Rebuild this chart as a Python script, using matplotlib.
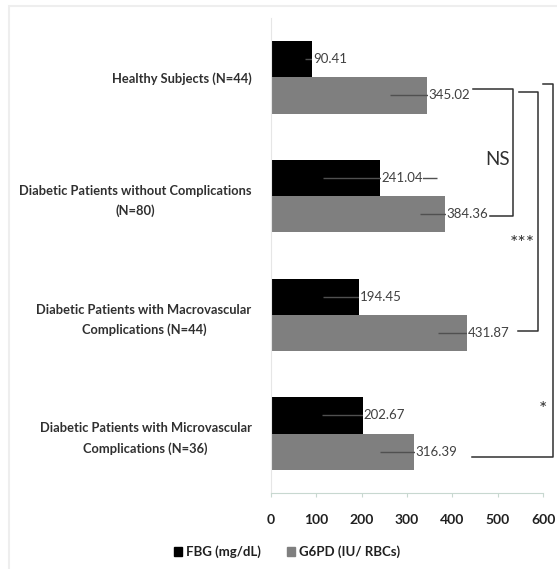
import matplotlib
matplotlib.use("Agg")
import matplotlib.pyplot as plt
from matplotlib.patches import Patch
import numpy as np

categories = ["Healthy Subjects (N=44)",
              "Diabetic Patients without Complications\n(N=80)",
              "Diabetic Patients with Macrovascular\nComplications (N=44)",
              "Diabetic Patients with Microvascular\nComplications (N=36)"]
fbg = [90.41, 241.04, 194.45, 202.67]
fbg_sd = [15, 126, 79, 90]
g6pd = [345.02, 384.36, 431.87, 316.39]
g6pd_sd = [82, 55, 64, 75]
xticks = [0, 100, 200, 300, 400, 500, 600]
series_names = ["FBG (mg/dL)", "G6PD (IU/ RBCs)"]

FONT = ["Lato", "DejaVu Sans"]
plt.rcParams['font.family'] = FONT

fig = plt.figure(figsize=(5.57, 5.69), dpi=100)
ax = fig.add_axes([0.4865, 0.1336, 0.4885, 0.8348])

y = np.arange(len(categories))
h = 0.305
ax.barh(y - h / 2, fbg, height=h, color="#000000", zorder=2)
ax.barh(y + h / 2, g6pd, height=h, color="#7f7f7f", zorder=2)
ax.errorbar(fbg, y - h / 2, xerr=fbg_sd, fmt="none", ecolor="#505050", elinewidth=1, capsize=0, zorder=3)
ax.errorbar(g6pd, y + h / 2, xerr=g6pd_sd, fmt="none", ecolor="#505050", elinewidth=1, capsize=0, zorder=3)

for vals, off in ((fbg, -h / 2), (g6pd, h / 2)):
    for yi, v in zip(y, vals):
        ax.text(v + 2, yi + off, f"{v:.2f}", va="center", ha="left", fontsize=9.5,
                color="#404040", zorder=4,
                bbox=dict(boxstyle="square,pad=0.05", fc="white", ec="none"))

ax.set_ylim(3.5, -0.5)
ax.set_xlim(0, 600)
ax.set_xticks(xticks)
ax.set_xticklabels([str(t) for t in xticks], fontsize=10, color="#202020", fontweight="bold")
ax.set_yticks(y)
ax.set_yticklabels(categories, fontsize=9.3, color="#303030", linespacing=1.75,
                   multialignment="center", fontweight="bold")
ax.tick_params(axis="y", length=0, pad=14)
ax.tick_params(axis="x", length=3, color="#c8d8d0", pad=12)
for s in ("top", "right"):
    ax.spines[s].set_visible(False)
ax.spines["bottom"].set_color("#c8d8d0")
ax.spines["left"].set_color("#e6e6e6")

# significance brackets
kw = dict(color="#303030", lw=1.1, clip_on=False, zorder=5)
ax.plot([446, 534, 534, 482], [0.10, 0.10, 1.17, 1.17], **kw)
ax.text(527, 0.69, "NS", ha="right", va="center", fontsize=13.5, color="#303030")
ax.plot([547, 589, 589, 545], [0.12, 0.12, 2.14, 2.14], **kw)
ax.text(583, 1.40, "***", ha="right", va="center", fontsize=14, color="#303030")
ax.plot([600, 622, 622, 443], [0.06, 0.06, 3.20, 3.20], **kw)
ax.text(600, 2.80, "*", ha="center", va="center", fontsize=14, color="#303030")

handles = [Patch(color="#000000"), Patch(color="#7f7f7f")]
fig.legend(handles, series_names, loc="center", bbox_to_anchor=(0.515, 0.03), ncol=2,
           frameon=False, fontsize=9.5, handlelength=0.6, handleheight=0.6,
           handletextpad=0.3, columnspacing=2.0, labelcolor="#202020",
           prop=dict(weight="bold", size=9.5))

# faint chart border
fig.add_artist(plt.Rectangle((0.016, -0.1), 1.2, 1.089, transform=fig.transFigure,
                             fill=False, ec="#eeeeee", lw=1.5))

fig.savefig("out.png", dpi=100)
